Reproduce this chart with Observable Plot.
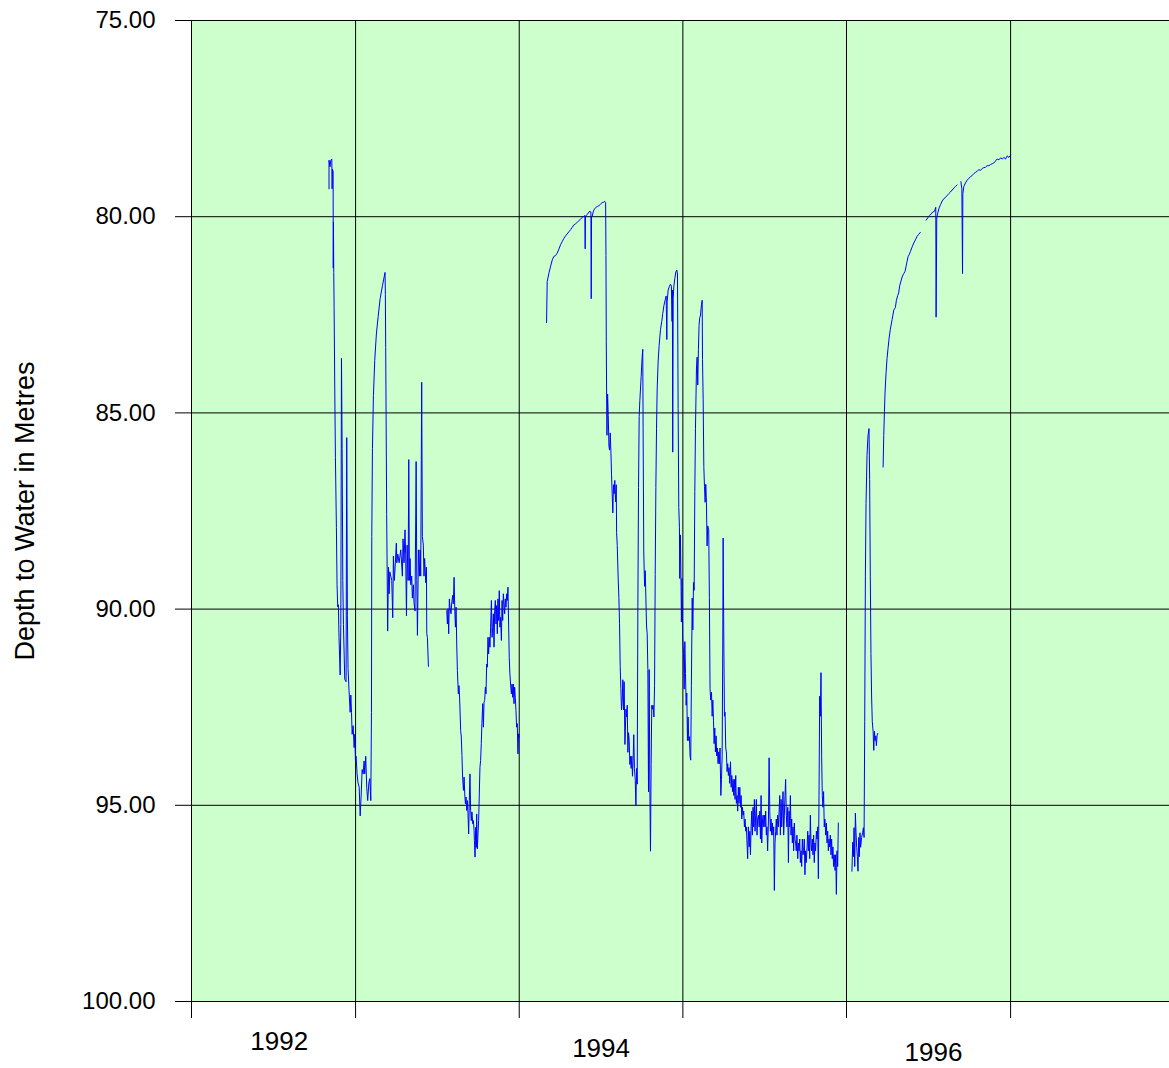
<!DOCTYPE html>
<html>
<head>
<meta charset="utf-8">
<script src="https://cdn.jsdelivr.net/npm/d3@7"></script>
<script src="https://cdn.jsdelivr.net/npm/@observablehq/plot@0.6"></script>
<style>
  html, body { margin: 0; padding: 0; background: #ffffff; }
  #chart svg { display: block; }
</style>
</head>
<body>
<div id="chart"></div>
<script>
// ---- Data: decimal year of each reading and depth to water (m); null marks a gap in the record ----
const readingYears = [
  // late 1992 - mid 1993
  1992.838,1992.838,1992.844,1992.849,1992.855,1992.857,1992.859,1992.863,1992.864,1992.865,
  1992.867,1992.869,1992.873,1992.877,1992.883,1992.887,1992.891,1992.895,1992.899,1992.906,
  1992.910,1992.914,1992.918,1992.922,1992.926,1992.934,1992.942,1992.946,1992.950,1992.954,
  1992.960,1992.967,1992.971,1992.975,1992.979,1992.985,1992.991,1992.995,1992.999,1993.003,
  1993.009,1993.015,1993.022,1993.028,1993.034,1993.040,1993.046,1993.052,1993.056,1993.062,
  1993.068,1993.074,1993.081,1993.087,1993.093,1993.097,1993.099,1993.103,1993.109,1993.117,
  1993.127,1993.138,1993.150,1993.164,1993.180,1993.182,1993.184,1993.190,1993.196,1993.201,
  1993.205,1993.209,1993.215,1993.221,1993.227,1993.231,1993.237,1993.243,1993.249,1993.252,
  1993.258,1993.266,1993.276,1993.286,1993.290,1993.296,1993.302,1993.306,1993.311,1993.315,
  1993.321,1993.325,1993.329,1993.333,1993.337,1993.343,1993.347,1993.353,1993.357,1993.363,
  1993.370,1993.374,1993.378,1993.384,1993.390,1993.394,1993.398,1993.404,1993.408,1993.414,
  1993.418,1993.422,1993.429,1993.433,1993.435,1993.439,1993.445,
  null,
  // mid 1993 - end 1993
  1993.557,1993.561,1993.565,1993.569,1993.573,1993.577,1993.583,1993.587,1993.593,1993.597,
  1993.602,1993.606,1993.610,1993.614,1993.618,1993.622,1993.628,1993.632,1993.636,1993.642,
  1993.646,1993.650,1993.654,1993.659,1993.663,1993.667,1993.671,1993.675,1993.679,1993.683,
  1993.687,1993.691,1993.695,1993.699,1993.703,1993.707,1993.711,1993.716,1993.720,1993.724,
  1993.726,1993.730,1993.734,1993.738,1993.740,1993.744,1993.748,1993.752,1993.756,1993.760,
  1993.764,1993.768,1993.772,1993.777,1993.781,1993.785,1993.789,1993.793,1993.797,1993.801,
  1993.805,1993.809,1993.813,1993.817,1993.821,1993.825,1993.830,1993.834,1993.838,1993.842,
  1993.846,1993.850,1993.854,1993.858,1993.862,1993.866,1993.870,1993.874,1993.878,1993.882,
  1993.886,1993.891,1993.895,1993.899,1993.903,1993.907,1993.911,1993.915,1993.919,1993.923,
  1993.927,1993.931,1993.935,1993.939,1993.943,1993.947,1993.952,1993.956,1993.960,1993.964,
  1993.968,1993.972,1993.976,1993.980,1993.984,1993.988,1993.992,1993.996,1994.000,
  null,
  // 1994 - end 1995
  1994.167,1994.171,1994.182,1994.192,1994.202,1994.212,1994.222,1994.232,1994.243,1994.253,
  1994.263,1994.273,1994.283,1994.293,1994.304,1994.314,1994.324,1994.334,1994.344,1994.355,
  1994.365,1994.375,1994.385,1994.395,1994.401,1994.403,1994.405,1994.416,1994.426,1994.432,
  1994.438,1994.440,1994.442,1994.446,1994.452,1994.456,1994.466,1994.477,1994.487,1994.497,
  1994.507,1994.517,1994.523,1994.528,1994.530,1994.532,1994.534,1994.536,1994.540,1994.544,
  1994.548,1994.552,1994.556,1994.560,1994.564,1994.568,1994.572,1994.576,1994.580,1994.584,
  1994.589,1994.593,1994.595,1994.599,1994.605,1994.609,1994.613,1994.617,1994.621,1994.625,
  1994.629,1994.633,1994.637,1994.641,1994.646,
  1994.652,1994.656,1994.660,1994.664,1994.668,1994.672,1994.676,1994.680,1994.684,1994.688,
  1994.692,1994.696,1994.700,1994.704,1994.709,1994.713,1994.717,1994.721,1994.725,1994.729,
  1994.733,1994.737,1994.745,1994.751,1994.755,1994.757,1994.761,1994.766,1994.770,1994.774,
  1994.778,1994.782,1994.786,1994.790,1994.794,1994.798,1994.802,1994.806,1994.810,1994.814,
  1994.818,1994.823,1994.827,1994.831,1994.835,1994.839,1994.843,1994.849,1994.855,1994.863,
  1994.871,1994.877,1994.884,1994.892,1994.898,1994.902,1994.904,1994.910,1994.918,1994.924,
  1994.930,1994.934,1994.936,1994.938,1994.941,1994.945,1994.951,1994.957,1994.963,1994.967,
  1994.971,1994.975,1994.979,1994.981,1994.985,1994.989,1994.991,1994.995,1994.999,1995.004,
  1995.008,1995.012,1995.016,1995.020,1995.024,1995.028,1995.032,1995.036,1995.040,1995.044,
  1995.048,1995.052,1995.057,1995.061,1995.065,1995.069,1995.073,1995.077,1995.083,1995.087,
  1995.091,1995.095,1995.099,1995.103,
  1995.107,1995.114,1995.118,1995.120,1995.124,1995.128,1995.132,1995.136,1995.140,1995.144,
  1995.148,1995.152,1995.158,1995.162,1995.166,1995.170,1995.175,1995.179,1995.183,1995.187,
  1995.191,1995.195,1995.199,1995.203,1995.207,1995.211,1995.215,1995.219,1995.223,1995.227,
  1995.232,1995.236,1995.240,1995.244,1995.246,1995.250,1995.254,1995.258,1995.262,1995.266,
  1995.270,1995.274,1995.278,1995.282,1995.286,1995.291,1995.295,1995.299,1995.303,1995.307,
  1995.311,1995.315,1995.319,1995.323,1995.327,1995.331,1995.335,1995.339,1995.343,1995.348,
  1995.352,1995.356,1995.360,1995.364,1995.368,1995.372,1995.376,1995.380,1995.384,1995.388,
  1995.392,1995.396,1995.400,1995.405,1995.409,1995.413,1995.417,1995.421,1995.425,1995.429,
  1995.433,1995.437,1995.441,1995.445,1995.449,1995.453,1995.457,1995.462,1995.466,1995.470,
  1995.474,1995.478,1995.482,1995.486,1995.490,1995.494,1995.498,1995.502,1995.506,1995.510,
  1995.514,1995.518,1995.523,1995.527,1995.531,1995.535,1995.539,1995.543,1995.547,1995.551,
  1995.555,1995.559,1995.563,1995.567,1995.571,1995.575,1995.579,1995.584,1995.588,1995.592,
  1995.596,1995.600,1995.604,1995.608,1995.612,1995.616,1995.620,1995.624,1995.628,1995.632,
  1995.636,1995.641,1995.645,1995.649,1995.653,1995.657,1995.661,1995.665,1995.669,1995.673,
  1995.677,1995.681,1995.685,1995.689,1995.693,1995.697,1995.702,1995.706,1995.710,1995.714,
  1995.718,1995.722,1995.726,1995.730,1995.734,1995.738,1995.742,1995.746,1995.750,1995.754,
  1995.759,1995.763,1995.767,1995.771,1995.775,1995.779,1995.783,1995.787,1995.791,1995.795,
  1995.799,1995.803,1995.807,1995.811,1995.816,1995.820,1995.824,1995.828,1995.832,1995.836,
  1995.840,1995.844,1995.848,1995.852,1995.856,1995.860,1995.864,1995.868,1995.873,1995.877,
  1995.881,1995.885,1995.889,1995.893,1995.897,1995.901,1995.905,1995.909,1995.913,1995.917,
  1995.921,1995.925,1995.930,1995.934,1995.938,1995.942,1995.946,1995.950,
  null,
  // early 1996
  1996.033,1996.038,1996.042,1996.046,1996.050,1996.054,1996.058,1996.062,1996.066,1996.070,
  1996.074,1996.078,1996.082,1996.086,1996.092,1996.098,1996.103,1996.107,1996.111,1996.115,
  1996.119,1996.125,1996.131,1996.137,1996.141,1996.145,1996.149,1996.153,1996.157,1996.162,
  1996.166,1996.170,1996.174,1996.178,1996.182,1996.186,1996.190,
  null,
  // recovery 1996
  1996.223,1996.227,1996.231,1996.235,1996.241,1996.247,1996.253,1996.259,1996.267,1996.278,
  1996.288,1996.298,1996.304,1996.312,1996.318,1996.324,1996.332,1996.341,1996.349,1996.357,
  1996.363,1996.369,1996.375,1996.383,1996.389,1996.400,1996.410,1996.420,1996.430,1996.440,
  1996.450,
  null,
  1996.485,1996.495,1996.505,1996.516,1996.526,1996.536,1996.544,1996.546,1996.550,1996.556,
  1996.564,1996.573,1996.583,1996.593,1996.603,1996.613,1996.624,1996.634,1996.644,1996.654,
  1996.664,1996.674,
  null,
  1996.697,1996.703,1996.707,1996.709,1996.715,1996.725,1996.735,1996.746,1996.756,1996.766,
  1996.776,1996.786,1996.796,1996.807,1996.817,1996.827,1996.837,1996.847,1996.857,1996.868,
  1996.878,1996.888,1996.898,1996.908,1996.918,1996.929,1996.939,1996.949,1996.959,1996.969,
  1996.979,1996.990,1997.000
];

const depthToWater = [
  79.29,78.56,78.73,78.56,78.53,79.29,78.79,78.84,81.31,80.13,
  81.42,82.32,84.34,86.13,87.92,89.38,89.94,89.89,90.73,91.68,
  90.39,83.61,85.91,89.27,90.39,91.79,91.85,85.63,90.17,91.51,
  92.07,92.63,92.19,92.63,93.19,92.97,93.53,93.19,93.87,93.75,
  94.20,94.43,94.54,95.27,94.76,94.09,94.20,93.87,94.20,93.75,
  94.54,94.88,94.43,94.32,94.88,92.63,88.15,85.91,84.56,83.66,
  82.99,82.54,82.09,81.76,81.42,81.98,83.33,87.59,90.56,88.93,
  89.61,89.05,89.16,89.27,90.22,88.65,89.27,88.82,88.32,88.82,
  88.60,88.82,88.49,89.16,88.21,88.82,87.98,88.60,90.17,88.37,
  89.27,86.19,89.27,88.71,89.38,89.16,89.72,89.38,89.83,90.05,
  86.24,89.27,90.67,88.49,89.16,88.49,89.16,84.22,88.15,88.37,
  89.16,88.71,89.33,88.93,90.62,90.73,91.46,
  null,
  90.04,90.38,89.99,90.63,89.74,89.95,90.12,89.87,89.65,89.87,
  89.19,89.99,90.46,89.95,90.89,91.56,92.16,91.95,92.29,93.09,
  93.26,93.73,94.28,94.62,94.28,94.71,94.96,94.79,95.13,94.88,
  95.22,95.73,94.88,94.20,95.13,95.39,95.17,95.47,95.39,95.64,
  95.90,96.32,95.56,96.07,95.22,96.11,95.73,95.39,94.71,94.03,
  93.86,93.43,92.92,92.41,93.01,92.37,92.33,91.99,92.16,91.40,
  91.48,90.72,91.14,90.72,90.97,90.46,89.78,90.72,90.46,90.12,
  90.97,90.04,89.78,90.38,89.91,90.63,89.74,90.29,89.53,90.46,
  90.21,90.80,89.78,90.29,89.61,89.87,90.12,89.74,89.95,89.61,
  89.78,89.44,90.38,91.23,91.65,91.91,92.16,91.91,92.25,91.91,
  92.41,91.99,92.25,92.58,93.01,92.92,93.69,93.18,93.26,
  null,
  82.70,81.65,81.43,81.26,81.10,81.01,80.99,80.93,80.82,80.71,
  80.63,80.55,80.49,80.44,80.38,80.33,80.27,80.21,80.18,80.14,
  80.10,80.06,80.02,79.99,79.97,80.82,79.99,79.94,79.88,79.86,
  79.88,82.09,79.99,79.99,79.88,79.83,79.77,79.74,79.72,79.68,
  79.64,79.63,79.61,79.64,80.99,83.19,84.52,85.57,84.52,85.07,
  85.84,85.95,85.51,85.95,86.56,87.06,87.55,86.83,87.06,86.72,
  87.27,86.83,88.05,88.38,89.26,89.70,90.36,91.47,92.02,92.57,
  92.35,91.80,92.57,91.85,93.45,
  92.55,92.75,92.45,93.65,93.15,93.35,93.96,93.75,94.06,93.75,
  94.26,93.85,93.20,94.06,94.36,95.01,94.06,94.46,89.93,86.90,
  85.09,84.69,84.08,83.58,83.38,85.39,88.52,89.42,89.02,89.72,
  90.43,90.63,91.54,94.66,91.54,94.46,96.17,93.96,92.45,92.55,
  92.45,92.75,91.94,89.12,86.90,85.39,84.39,83.68,83.28,82.88,
  82.67,82.47,82.27,82.12,82.02,83.13,82.17,81.87,81.77,81.72,
  81.77,82.67,81.87,86.00,82.07,81.77,81.57,81.41,81.36,81.46,
  84.89,87.41,87.91,89.22,88.11,89.42,90.33,89.22,90.73,91.13,
  92.04,90.83,91.64,92.45,92.14,93.35,92.75,93.35,93.25,93.75,
  93.85,91.94,89.72,90.53,89.32,89.52,87.00,85.39,83.88,83.58,
  84.29,83.38,82.77,82.57,
  82.53,82.23,82.13,83.64,84.65,86.37,86.87,87.28,86.82,87.28,
  88.39,87.88,87.98,89.70,92.02,92.32,92.12,92.73,92.32,92.83,
  93.43,93.03,93.64,93.23,93.74,93.54,93.94,93.64,93.94,93.54,
  94.75,94.34,93.74,90.71,88.19,90.71,92.73,92.63,93.54,93.64,
  94.14,93.94,94.24,94.04,94.44,93.89,94.54,94.24,94.65,94.34,
  94.75,94.34,94.85,94.24,94.95,94.75,95.15,94.54,94.95,94.54,
  95.05,94.75,95.35,95.05,95.25,95.15,95.55,95.35,95.66,95.55,
  95.96,96.36,95.55,96.06,95.66,96.26,95.55,95.15,95.76,95.05,
  95.55,94.85,95.66,95.25,94.85,95.76,95.35,95.25,95.55,95.15,
  95.86,94.75,95.96,95.45,95.25,95.55,95.25,95.55,95.15,95.76,
  95.55,96.16,95.35,93.79,95.15,95.66,95.35,95.76,95.45,95.76,
  95.55,97.17,95.96,95.66,95.35,95.76,95.25,95.55,95.15,94.75,
  95.76,94.85,95.55,95.15,94.65,95.76,95.25,94.75,94.34,95.25,
  95.55,95.05,96.46,95.15,95.55,94.75,95.76,95.35,95.96,95.55,
  96.16,95.45,95.86,95.96,96.16,95.76,96.36,95.96,96.16,95.86,
  96.46,96.16,96.56,95.86,96.26,96.16,95.86,96.77,96.16,96.46,
  96.06,95.66,96.16,95.76,96.36,95.25,95.96,96.16,95.86,96.26,
  95.76,96.46,95.96,96.16,95.66,95.86,95.55,96.87,94.75,92.22,
  92.73,91.62,93.74,94.75,95.05,94.65,95.55,95.35,95.76,95.45,
  95.96,95.66,96.16,95.86,96.06,95.76,96.26,95.86,96.36,96.06,
  96.56,96.26,96.66,96.26,97.27,96.16,96.56,95.45,
  null,
  96.68,95.94,96.31,95.57,96.56,95.20,95.70,96.07,96.31,96.68,
  95.82,96.31,95.70,96.07,95.82,95.70,95.57,95.82,92.86,89.16,
  87.31,86.08,85.58,85.40,86.69,89.16,91.13,92.24,92.86,93.11,
  93.60,93.11,93.35,93.23,93.48,93.23,93.17,
  null,
  86.38,85.58,84.97,84.47,83.98,83.61,83.36,83.12,82.87,82.62,
  82.38,82.31,82.13,82.01,81.94,81.76,81.64,81.51,81.45,81.39,
  81.26,81.14,81.02,80.96,80.89,80.77,80.67,80.59,80.50,80.45,
  80.40,
  null,
  80.09,80.03,79.97,79.93,79.88,79.86,79.76,82.56,80.03,79.91,
  79.78,79.69,79.60,79.54,79.51,79.46,79.41,79.37,79.32,79.27,
  79.23,79.19,
  null,
  79.11,79.29,81.45,79.41,79.23,79.14,79.07,79.02,78.98,78.95,
  78.90,78.87,78.84,78.80,78.82,78.77,78.75,78.74,78.70,78.70,
  78.67,78.65,78.63,78.58,78.53,78.55,78.50,78.53,78.49,78.53,
  78.45,78.49,78.43
];

// ---- Axis values ----
const depthTicks = [75, 80, 85, 90, 95, 100];
const yearBoundaries = [1992, 1993, 1994, 1995, 1996, 1997];
const yearLabels = ["1992", "1994", "1996"];
const yearLabelAt = [1992.535, 1994.50, 1996.53];
const xDomainYears = [1992, 1997.971];
const yAxisTitle = "Depth to Water in Metres";

// decimal year -> Date (UTC)
function toDate(t) {
  if (t == null) return null;
  const y = Math.floor(t);
  const s = Date.UTC(y, 0, 1), e = Date.UTC(y + 1, 0, 1);
  return new Date(s + (t - y) * (e - s));
}

const readings = readingYears.map((t, i) => ({
  date: toDate(t),
  depth: depthToWater[i]
}));

const labelDy = [48, 55, 59];
const FONT = "'Liberation Sans', Arial, Helvetica, sans-serif";

const chart = Plot.plot({
  width: 1169,
  height: 1068,
  marginTop: 20,
  marginBottom: 67,
  marginLeft: 191,
  marginRight: 0,
  style: { fontFamily: FONT, background: "#ffffff", color: "#000000" },
  x: { type: "utc", domain: xDomainYears.map(toDate), axis: null },
  y: { domain: [75, 100], reverse: true, axis: null },
  marks: [
    Plot.frame({ fill: "#ccffcc", stroke: "none" }),
    Plot.gridY(depthTicks, { stroke: "#000000", strokeOpacity: 1, strokeWidth: 1 }),
    Plot.gridX(yearBoundaries.map(toDate), { stroke: "#000000", strokeOpacity: 1, strokeWidth: 1 }),
    Plot.axisY(depthTicks, {
      tickSize: 16,
      tickPadding: 20,
      tickFormat: d => d.toFixed(2),
      fontSize: 24,
      label: null,
      stroke: "#000000"
    }),
    Plot.axisX(yearBoundaries.map(toDate), {
      tickSize: 17,
      tickFormat: () => "",
      label: null,
      stroke: "#000000"
    }),
    Plot.line(readings, {
      x: "date",
      y: "depth",
      stroke: "#0000ff",
      strokeWidth: 1
    }),
    ...yearLabels.map((lab, i) =>
      Plot.text([lab], {
        x: () => toDate(yearLabelAt[i]),
        text: d => d,
        frameAnchor: "bottom",
        dy: labelDy[i],
        fontSize: 26,
        fill: "#000000"
      })
    ),
    Plot.text([yAxisTitle], {
      text: d => d,
      frameAnchor: "left",
      textAnchor: "middle",
      dx: -166,
      rotate: -90,
      fontSize: 27,
      fill: "#000000"
    })
  ]
});

document.getElementById("chart").appendChild(chart);
</script>
</body>
</html>
